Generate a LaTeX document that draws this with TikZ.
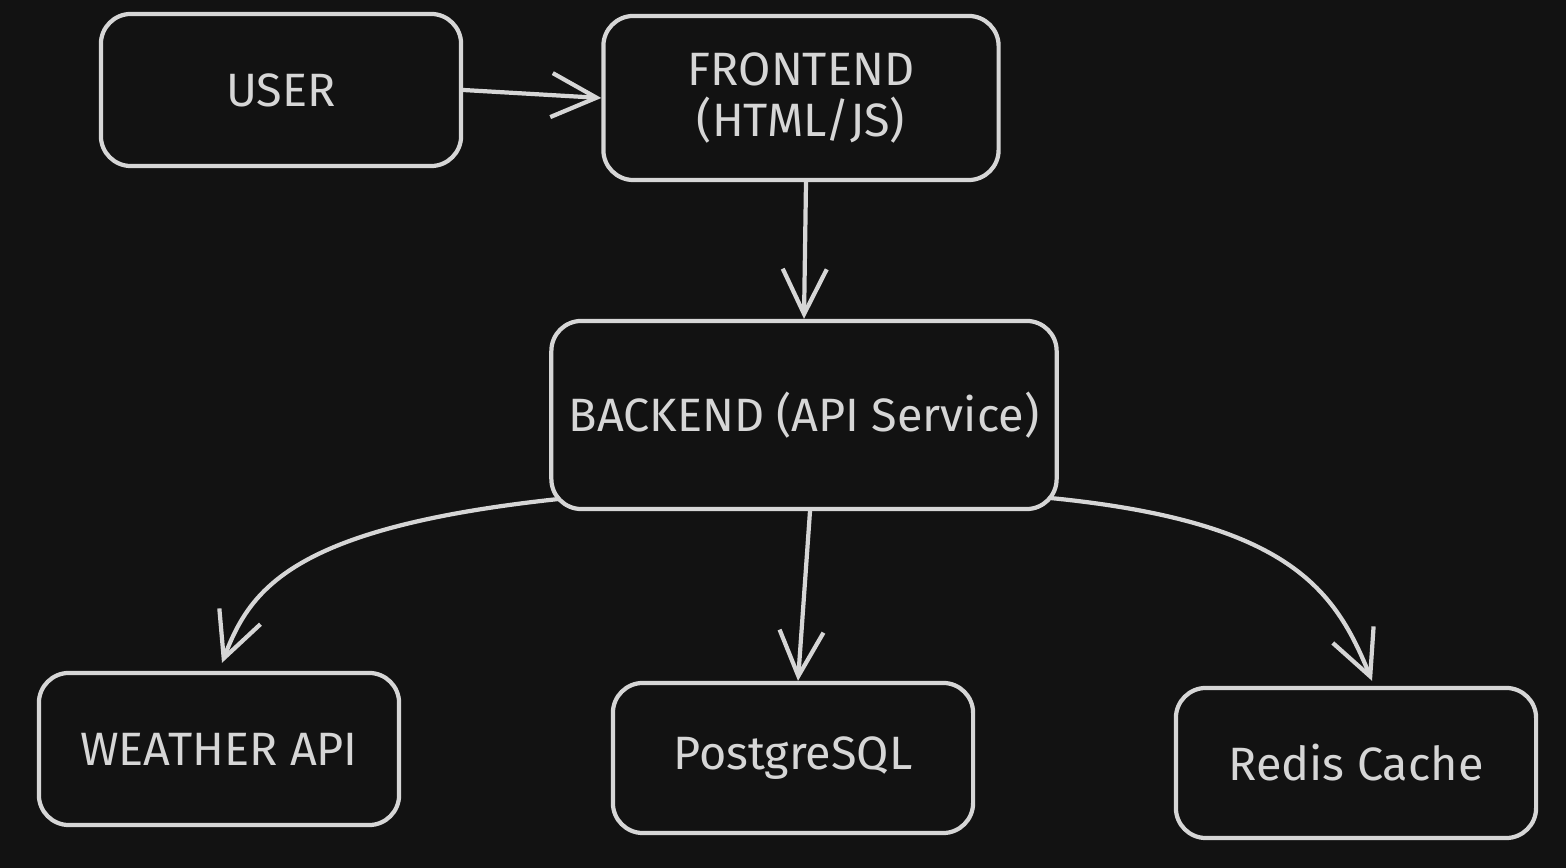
\documentclass[tikz,border=0pt]{standalone}
\usepackage{fontspec}
\setmainfont{Fira Sans}
\usetikzlibrary{arrows.meta}
\definecolor{bg}{HTML}{121212}
\definecolor{ink}{HTML}{D6D6D6}
\tikzset{
  box/.style={draw=ink, line width=1.2pt, rounded corners=0.3cm, text=ink,
    font=\fontsize{13.3}{14.5}\selectfont, align=center, inner sep=0pt},
  conn/.style={draw=ink, line width=1.2pt, line cap=round,
    -{Straight Barb[length=0.45cm, width=0.44cm, line width=1.2pt]}}
}
\begin{document}
\begin{tikzpicture}[x=0.01cm, y=-0.01cm]
\fill[bg] (0,0) rectangle (1566,868);
\useasboundingbox (0,0) rectangle (1566,868);
\node[box, minimum width=3.6cm, minimum height=1.52cm] (user) at (281,90) {USER};
\node[box, minimum width=3.95cm, minimum height=1.64cm] (frontend) at (801,98) {FRONTEND\\(HTML/JS)};
\node[box, minimum width=5.05cm, minimum height=1.88cm] (backend) at (804,415) {BACKEND (API Service)};
\node[box, minimum width=3.6cm, minimum height=1.52cm] (weather) at (219,749) {WEATHER API};
\node[box, minimum width=3.6cm, minimum height=1.50cm] (postgres) at (793,758) {PostgreSQL};
\node[box, minimum width=3.6cm, minimum height=1.50cm] (redis) at (1356,763) {Redis Cache};
\draw[conn] (user.east) -- (frontend.west);
\draw[conn] ([xshift=0.05cm]frontend.south) -- (backend.north);
\draw[conn] ([xshift=0.06cm]backend.south) -- ([xshift=0.05cm]postgres.north);
\draw[conn] ([xshift=0.08cm,yshift=0.12cm]backend.south west) .. controls (290,528) and (250,590) .. ([xshift=0.03cm,yshift=0.08cm]weather.north);
\draw[conn] ([xshift=-0.07cm,yshift=0.13cm]backend.south east) .. controls (1290,522) and (1335,590) .. ([xshift=0.16cm,yshift=0.05cm]redis.north);
\end{tikzpicture}
\end{document}
